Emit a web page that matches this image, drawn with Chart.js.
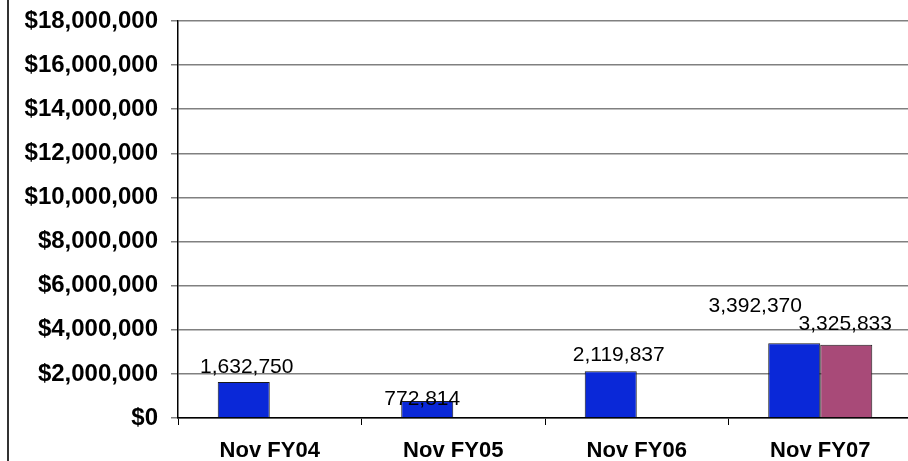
<!DOCTYPE html>
<html>
<head>
<meta charset="utf-8">
<script src="https://cdn.jsdelivr.net/npm/chart.js@4"></script>
<style>
  html, body { margin: 0; padding: 0; background: #fff; overflow: hidden; }
  #wrap { position: relative; width: 908px; height: 461px; overflow: hidden; }
  #edge { position: absolute; left: 7px; top: 0; width: 2px; height: 461px; background: #333; }
</style>
</head>
<body>
<div id="wrap">
  <canvas id="novChart" width="912" height="461"></canvas>
  <div id="edge"></div>
</div>
<script>
const categories = ['Nov FY04', 'Nov FY05', 'Nov FY06', 'Nov FY07'];
const seriesA = [1632750, 772814, 2119837, 3392370];
const seriesB = [null, null, null, 3325833];
const yTicks = [0, 2000000, 4000000, 6000000, 8000000, 10000000, 12000000, 14000000, 16000000, 18000000];

// 값 라벨 위치 보정 (dx, 막대 위 간격)
const labelNudge = {
  '0-0': [3, 9], '0-1': [-5, -4], '0-2': [8, 10], '0-3': [-39, 31],
  '1-3': [-1, 15]
};

const fmt = v => v.toLocaleString('en-US');

const valueLabels = {
  id: 'valueLabels',
  afterDatasetsDraw(chart) {
    const ctx = chart.ctx;
    ctx.save();
    ctx.font = '21px "Liberation Sans", Arial, sans-serif';
    ctx.fillStyle = '#000';
    ctx.textAlign = 'center';
    ctx.textBaseline = 'alphabetic';
    chart.data.datasets.forEach((ds, d) => {
      chart.getDatasetMeta(d).data.forEach((bar, i) => {
        const v = ds.data[i];
        if (v == null) return;
        const n = labelNudge[d + '-' + i] || [0, 9];
        ctx.fillText(fmt(v), bar.x + n[0], bar.y - n[1]);
      });
    });
    ctx.restore();
  }
};

const data_nov = {
  labels: categories,
  datasets: [{
    label: 'A',
    backgroundColor: '#0a28d8',
    borderColor: '#1a1a1a',
    borderWidth: 1,
    data: seriesA
  }, {
    label: 'B',
    backgroundColor: '#a84a78',
    borderColor: '#1a1a1a',
    borderWidth: 1,
    data: seriesB
  }]
};

const options_nov = {
  responsive: false,
  maintainAspectRatio: false,
  animation: false,
  layout: { padding: { top: 21, left: 0, right: 0, bottom: 0 } },
  categoryPercentage: 0.567,
  barPercentage: 1.0,
  plugins: { legend: { display: false }, tooltip: { enabled: false } },
  scales: {
    x: {
      grid: { drawOnChartArea: false, tickLength: 7, color: '#000', lineWidth: 1 },
      border: { color: '#000', width: 1.5 },
      ticks: {
        color: '#000', maxRotation: 0, autoSkip: false, padding: 13,
        font: { family: '"Liberation Sans", Arial, sans-serif', size: 22, weight: 'bold' }
      },
      afterFit: s => { s.height = 43; s.paddingLeft = 0; s.paddingRight = 0; }
    },
    y: {
      min: 0,
      max: 18000000,
      afterBuildTicks: s => { s.ticks = yTicks.map(v => ({ value: v })); },
      grid: { color: '#808080', lineWidth: 1.5, tickLength: 7 },
      border: { color: '#000', width: 1.5 },
      ticks: {
        color: '#000', padding: 13,
        font: { family: '"Liberation Sans", Arial, sans-serif', size: 24, weight: 'bold' },
        callback: v => '$' + fmt(v)
      },
      afterFit: s => { s.width = 178; s.paddingTop = 0; s.paddingBottom = 0; }
    }
  }
};

const ctx_nov = document.getElementById('novChart').getContext('2d');
const novChart = new Chart(ctx_nov, {
  type: 'bar',
  data: data_nov,
  options: options_nov,
  plugins: [valueLabels]
});
</script>
</body>
</html>
